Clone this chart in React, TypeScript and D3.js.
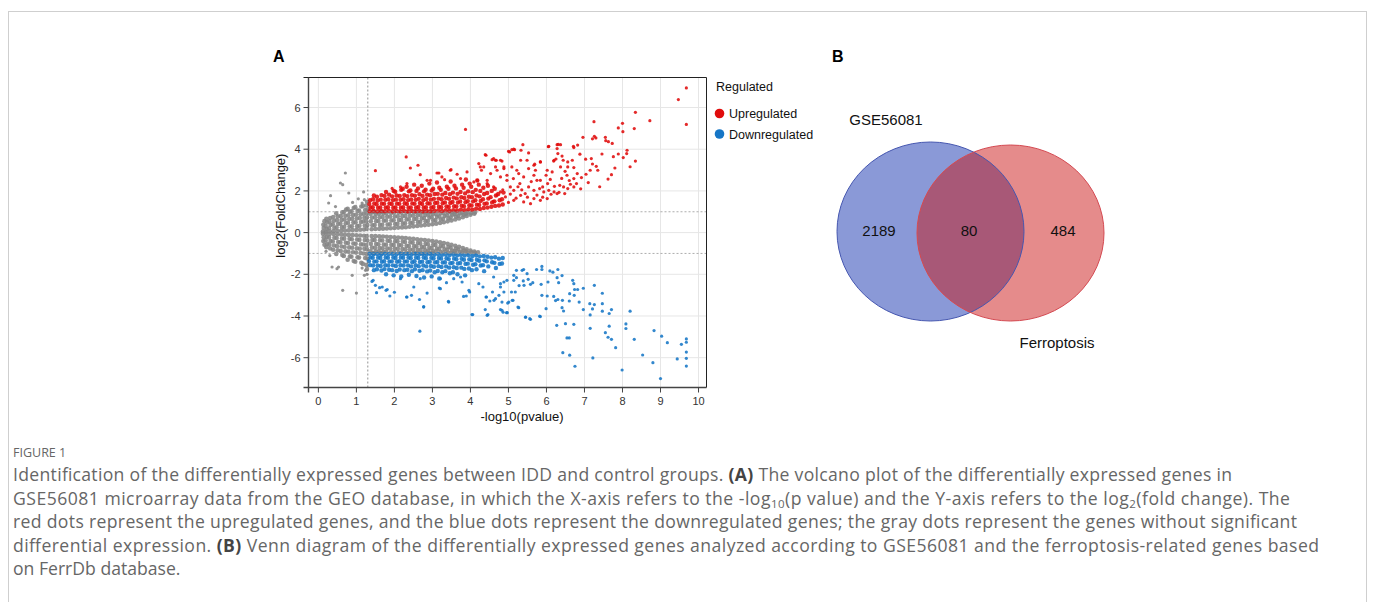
import React from "react";
import * as d3 from "d3";

// "x,y x,y ..." -> [[x, y], ...]
const pts = (s: string): [number, number][] =>
  s.trim().split(/\s+/).map(p => p.split(",").map(Number) as [number, number]);

// volcano plot: -log10(pvalue), log2(FoldChange)
// dense cores of each group (drawn with bigger dots) and the scattered rest
const grayUp = pts(`
0.12,0.05 0.14,0.22 0.13,0.38 0.16,0.55
0.2,0.04 0.22,0.18 0.19,0.33 0.23,0.5 0.21,0.66
0.3,0.06 0.28,0.21 0.32,0.37 0.29,0.54 0.31,0.7
0.4,0.07 0.42,0.23 0.38,0.4 0.41,0.57 0.39,0.75
0.5,0.08 0.48,0.25 0.52,0.42 0.49,0.6 0.51,0.78 0.47,0.92
0.6,0.09 0.62,0.26 0.58,0.43 0.61,0.61 0.59,0.79 0.63,0.97
0.7,0.1 0.68,0.28 0.72,0.45 0.69,0.63 0.71,0.81 0.67,0.99 0.73,1.1
0.8,0.11 0.82,0.29 0.78,0.47 0.81,0.65 0.79,0.83 0.83,1.0 0.77,1.14
0.9,0.12 0.88,0.3 0.92,0.48 0.89,0.66 0.91,0.84 0.87,1.02 0.93,1.18
1.0,0.13 1.02,0.31 0.98,0.5 1.01,0.68 0.99,0.86 1.03,1.04 0.97,1.22
1.1,0.14 1.08,0.33 1.12,0.51 1.09,0.7 1.11,0.88 1.07,1.06 1.13,1.25
1.2,0.15 1.22,0.34 1.18,0.53 1.21,0.71 1.19,0.9 1.23,1.08 1.17,1.28
1.27,0.18 1.29,0.36 1.26,0.55 1.28,0.74 1.27,0.92 1.29,1.1 1.26,1.3 1.28,1.48
1.4,0.16 1.42,0.35 1.38,0.54 1.41,0.72 1.37,0.9 1.43,0.98
1.5,0.17 1.48,0.36 1.52,0.55 1.49,0.73 1.51,0.9 1.47,0.99
1.6,0.18 1.62,0.37 1.58,0.56 1.61,0.74 1.59,0.91 1.63,0.98
1.7,0.19 1.68,0.38 1.72,0.57 1.69,0.75 1.71,0.92 1.67,0.99
1.8,0.2 1.82,0.39 1.78,0.58 1.81,0.76 1.79,0.93
1.9,0.21 1.88,0.4 1.92,0.58 1.89,0.76 1.91,0.94
2.0,0.22 2.02,0.41 1.98,0.59 2.01,0.77 1.99,0.95
2.1,0.24 2.08,0.42 2.12,0.6 2.09,0.78 2.11,0.96
2.2,0.25 2.22,0.43 2.18,0.61 2.21,0.79 2.19,0.97
2.3,0.26 2.28,0.45 2.32,0.63 2.29,0.8 2.31,0.97
2.4,0.28 2.42,0.46 2.38,0.64 2.41,0.81 2.39,0.98
2.5,0.3 2.48,0.48 2.52,0.65 2.49,0.82 2.51,0.98
2.6,0.32 2.62,0.5 2.58,0.67 2.61,0.83 2.59,0.98
2.7,0.34 2.68,0.52 2.72,0.68 2.69,0.84 2.71,0.99
2.8,0.36 2.82,0.54 2.78,0.7 2.81,0.85 2.79,0.99
2.9,0.38 2.88,0.56 2.92,0.72 2.89,0.86 2.91,0.98
3.0,0.4 3.02,0.58 2.98,0.74 3.01,0.88 2.99,0.99
3.1,0.43 3.08,0.6 3.12,0.76 3.09,0.9
3.2,0.46 3.22,0.63 3.18,0.78 3.21,0.92
3.3,0.5 3.28,0.66 3.32,0.8 3.29,0.94
3.4,0.54 3.42,0.69 3.38,0.83 3.41,0.96
3.5,0.58 3.48,0.73 3.52,0.86 3.49,0.97
3.6,0.63 3.62,0.77 3.58,0.89 3.61,0.98
3.7,0.68 3.68,0.81 3.72,0.92
3.8,0.74 3.82,0.86 3.78,0.95
3.9,0.8 3.88,0.9 3.92,0.97
4.0,0.86 4.02,0.94
4.1,0.91 4.12,0.97
`);

const grayDown = pts(`
0.12,-0.05 0.14,-0.22 0.13,-0.4 0.16,-0.58
0.2,-0.04 0.22,-0.2 0.19,-0.37 0.23,-0.54 0.21,-0.7
0.3,-0.06 0.28,-0.23 0.32,-0.4 0.29,-0.58 0.31,-0.76
0.4,-0.07 0.42,-0.25 0.38,-0.43 0.41,-0.62 0.39,-0.82
0.5,-0.08 0.48,-0.26 0.52,-0.45 0.49,-0.65 0.51,-0.85 0.47,-1.02
0.6,-0.09 0.62,-0.28 0.58,-0.47 0.61,-0.67 0.59,-0.88 0.63,-1.08
0.7,-0.1 0.68,-0.29 0.72,-0.49 0.69,-0.69 0.71,-0.9 0.67,-1.12
0.8,-0.11 0.82,-0.3 0.78,-0.5 0.81,-0.71 0.79,-0.92 0.83,-1.14 0.77,-1.3
0.9,-0.12 0.88,-0.32 0.92,-0.52 0.89,-0.73 0.91,-0.94 0.87,-1.16 0.93,-1.36
1.0,-0.13 1.02,-0.33 0.98,-0.54 1.01,-0.75 0.99,-0.96 1.03,-1.18 0.97,-1.4
1.1,-0.14 1.08,-0.35 1.12,-0.56 1.09,-0.77 1.11,-0.98 1.07,-1.2 1.13,-1.45
1.2,-0.15 1.22,-0.36 1.18,-0.57 1.21,-0.78 1.19,-1.0 1.23,-1.22 1.17,-1.5
1.27,-0.17 1.29,-0.38 1.26,-0.6 1.28,-0.8 1.27,-1.02 1.29,-1.25 1.26,-1.55 1.28,-1.75
1.4,-0.16 1.42,-0.35 1.38,-0.54 1.41,-0.72 1.37,-0.9 1.43,-0.98
1.5,-0.17 1.48,-0.36 1.52,-0.55 1.49,-0.73 1.51,-0.9 1.47,-0.99
1.6,-0.18 1.62,-0.37 1.58,-0.56 1.61,-0.74 1.59,-0.91 1.63,-0.98
1.7,-0.19 1.68,-0.38 1.72,-0.57 1.69,-0.75 1.71,-0.92 1.67,-0.99
1.8,-0.2 1.82,-0.39 1.78,-0.58 1.81,-0.76 1.79,-0.93
1.9,-0.21 1.88,-0.4 1.92,-0.58 1.89,-0.76 1.91,-0.94
2.0,-0.22 2.02,-0.41 1.98,-0.59 2.01,-0.77 1.99,-0.95
2.1,-0.24 2.08,-0.42 2.12,-0.6 2.09,-0.78 2.11,-0.96
2.2,-0.25 2.22,-0.43 2.18,-0.61 2.21,-0.79 2.19,-0.97
2.3,-0.26 2.28,-0.45 2.32,-0.63 2.29,-0.8 2.31,-0.97
2.4,-0.28 2.42,-0.46 2.38,-0.64 2.41,-0.81 2.39,-0.98
2.5,-0.3 2.48,-0.48 2.52,-0.65 2.49,-0.82 2.51,-0.98
2.6,-0.32 2.62,-0.5 2.58,-0.67 2.61,-0.83 2.59,-0.98
2.7,-0.34 2.68,-0.52 2.72,-0.68 2.69,-0.84 2.71,-0.99
2.8,-0.36 2.82,-0.54 2.78,-0.7 2.81,-0.85 2.79,-0.99
2.9,-0.38 2.88,-0.56 2.92,-0.72 2.89,-0.86 2.91,-0.98
3.0,-0.4 3.02,-0.58 2.98,-0.74 3.01,-0.88 2.99,-0.99
3.1,-0.43 3.08,-0.6 3.12,-0.76 3.09,-0.9
3.2,-0.46 3.22,-0.63 3.18,-0.78 3.21,-0.92
3.3,-0.5 3.28,-0.66 3.32,-0.8 3.29,-0.94
3.4,-0.54 3.42,-0.69 3.38,-0.83 3.41,-0.96
3.5,-0.58 3.48,-0.73 3.52,-0.86 3.49,-0.97
3.6,-0.63 3.62,-0.77 3.58,-0.89 3.61,-0.98
3.7,-0.68 3.68,-0.81 3.72,-0.92
3.8,-0.74 3.82,-0.86 3.78,-0.95
3.9,-0.8 3.88,-0.9 3.92,-0.97
4.0,-0.86 4.02,-0.94
4.1,-0.91 4.12,-0.97 4.2,-0.95
`);

const grayScatter = pts(`
0.71,2.86 0.58,2.38 0.64,2.3 0.8,1.9 0.32,1.77 0.27,1.42 1.19,1.95 1.21,1.58
0.45,1.25 0.9,1.45 1.05,1.62 1.15,1.42
0.64,-2.77 1.0,-2.9 0.53,-1.65 0.89,-2.05 0.36,-1.65 0.49,-1.73 1.24,-1.81 1.21,-2.05
1.28,-2.0 0.2,-0.9 0.3,-1.1 1.15,-1.7
`);

const upCore = pts(`
1.35,1.03 1.37,1.2 1.34,1.37 1.36,1.55
1.45,1.05 1.43,1.22 1.47,1.4 1.44,1.6 1.46,1.78
1.55,1.02 1.57,1.19 1.53,1.36 1.56,1.54 1.54,1.72
1.65,1.04 1.63,1.21 1.67,1.39 1.64,1.58 1.66,1.8
1.75,1.03 1.77,1.2 1.73,1.38 1.76,1.57 1.74,1.76 1.78,1.95
1.85,1.05 1.83,1.22 1.87,1.4 1.84,1.6 1.86,1.82
1.95,1.02 1.97,1.19 1.93,1.37 1.96,1.56 1.94,1.74 1.98,2.0
2.05,1.04 2.03,1.21 2.07,1.39 2.04,1.58 2.06,1.78 2.02,1.96
2.15,1.03 2.17,1.2 2.13,1.38 2.16,1.57 2.14,1.76 2.18,2.05
2.25,1.05 2.23,1.22 2.27,1.41 2.24,1.6 2.26,1.8 2.22,2.1
2.35,1.02 2.37,1.19 2.33,1.37 2.36,1.56 2.34,1.75 2.38,1.98 2.32,2.2
2.45,1.04 2.43,1.21 2.47,1.4 2.44,1.59 2.46,1.8 2.42,2.02
2.55,1.03 2.57,1.2 2.53,1.38 2.56,1.57 2.54,1.77 2.58,2.0 2.52,2.3
2.65,1.05 2.63,1.23 2.67,1.42 2.64,1.62 2.66,1.84 2.62,2.12
2.75,1.02 2.77,1.19 2.73,1.37 2.76,1.56 2.74,1.76 2.78,1.98 2.72,2.25
2.85,1.04 2.83,1.22 2.87,1.41 2.84,1.61 2.86,1.82 2.82,2.06
2.95,1.03 2.97,1.2 2.93,1.39 2.96,1.58 2.94,1.79 2.98,2.02 2.92,2.35
3.05,1.05 3.03,1.23 3.07,1.42 3.04,1.62 3.06,1.85 3.02,2.1
3.15,1.06 3.17,1.24 3.13,1.43 3.16,1.63 3.14,1.86 3.18,2.15 3.12,2.4
3.25,1.04 3.23,1.22 3.27,1.41 3.24,1.6 3.26,1.82 3.22,2.05
3.35,1.07 3.37,1.26 3.33,1.45 3.36,1.66 3.34,1.9 3.38,2.2
3.45,1.05 3.43,1.23 3.47,1.42 3.44,1.62 3.46,1.84 3.42,2.1 3.48,2.45
3.55,1.08 3.57,1.27 3.53,1.47 3.56,1.68 3.54,1.92 3.58,2.25
3.65,1.06 3.63,1.25 3.67,1.44 3.64,1.64 3.66,1.86 3.62,2.12
3.75,1.1 3.77,1.29 3.73,1.49 3.76,1.7 3.74,1.95 3.78,2.3
3.85,1.08 3.83,1.27 3.87,1.46 3.84,1.66 3.86,1.88 3.82,2.15 3.88,2.55
3.95,1.12 3.97,1.31 3.93,1.51 3.96,1.72 3.94,1.98 3.98,2.35
4.05,1.1 4.03,1.3 4.07,1.5 4.04,1.7 4.06,1.94 4.02,2.2
4.15,1.15 4.17,1.34 4.13,1.55 4.16,1.78 4.14,2.05 4.18,2.5
4.25,1.13 4.23,1.33 4.27,1.52 4.24,1.74 4.26,2.0 4.22,2.3
4.35,1.18 4.37,1.38 4.33,1.6 4.36,1.85 4.34,2.15
4.45,1.2 4.43,1.4 4.47,1.63 4.44,1.9 4.46,2.25
4.55,1.24 4.57,1.45 4.53,1.7 4.56,2.0
4.65,1.28 4.63,1.5 4.67,1.78 4.64,2.1
4.75,1.3 4.77,1.55 4.73,1.85
4.85,1.35 4.83,1.6 4.87,1.92
`);

const upScatter = pts(`
9.68,6.94 9.47,6.38 9.68,5.19 8.34,5.77 8.72,5.37 8.0,5.24 7.89,5.02 8.01,4.84 8.31,4.99
7.25,5.32 7.26,4.62 7.3,4.54 7.21,4.5 6.96,4.57 7.55,4.57 7.56,4.41 7.63,4.36 7.73,4.28
8.12,3.95 8.11,3.79 7.89,3.77 8.02,3.6 7.76,3.64 7.46,3.77 8.34,3.43 8.2,3.16 7.71,2.78
7.62,2.57 6.71,4.14 6.82,4.2 6.72,4.08 6.88,3.76 7.03,3.52 7.18,3.55 7.21,3.29 7.31,3.18
7.35,2.99 7.15,2.99 7.04,2.8 6.92,2.64 6.81,2.83 6.72,3.12 6.68,3.47 6.56,3.15 6.56,3.39
6.44,3.47 6.41,3.67 6.28,4.03 6.31,4.23 6.37,4.22 6.3,3.79 6.05,4.12 6.2,3.47 6.25,3.53
6.37,3.15 6.49,2.94 6.54,2.75 6.72,2.59 6.79,2.35 6.63,2.32 6.56,2.11 6.72,2.19 6.45,2.19
6.35,2.27 6.21,2.22 6.48,1.87 6.33,1.93 6.12,1.84 6.03,2.35 6.06,2.03 5.93,1.95 5.9,2.19
5.84,2.51 5.99,2.75 6.15,2.91 6.02,2.99 5.84,3.39 5.69,3.28 5.71,2.99 5.53,3.07 5.49,3.47
5.32,3.47 5.33,3.95 5.38,4.22 5.09,3.98 5.0,3.9 5.53,3.82 5.67,2.75 5.75,2.51 5.82,2.11
5.67,2.03 5.53,2.19 5.4,2.67 5.27,2.83 5.09,3.15 5.13,2.59 5.3,2.35 5.44,1.87 5.32,1.79
5.14,2.03 5.05,2.19 4.96,2.51 4.88,3.07 4.79,3.47 4.66,3.47 4.57,3.5 4.7,2.99 4.79,2.67
4.53,2.83 4.35,3.15 4.44,2.51 4.61,2.19 4.79,1.95 4.92,1.71 5.14,1.55 5.4,1.47 5.67,1.63
6.02,1.63 6.28,1.87 5.84,1.55 5.58,1.39
3.87,4.95 2.31,3.63 2.62,3.23 2.42,3.1 1.5,2.97 2.68,2.78 1.94,2.12 4.39,3.74 5.03,3.87
5.14,4.0 6.06,4.14 6.28,4.22 4.22,3.31 4.29,2.99 4.61,3.55 4.83,3.43 4.66,3.15 3.17,2.86
3.47,2.99 3.65,2.8 3.91,2.91 3.32,2.54 2.95,2.51 2.33,2.35 3.74,2.59 4.09,2.43 4.44,2.35
4.96,2.75 5.22,2.99 5.67,3.23 5.84,3.39 6.19,3.43 3.12,2.86 3.49,3.02 4.41,3.71 4.68,3.47
5.16,3.98 4.26,3.15 2.16,2.19 2.86,2.51 3.25,2.67 4.18,2.51 4.88,3.15
4.6,1.5 4.7,1.8 4.85,2.05 5.0,1.45 5.05,1.85 5.2,1.65 5.25,2.2 5.35,2.05 5.5,1.7 5.6,2.45
5.75,1.8 5.9,1.7 6.1,2.55 6.2,1.95 6.4,2.6 6.6,2.5 6.9,2.1 7.1,2.4 7.4,2.2 7.8,3.1
`);

const downCore = pts(`
1.35,-1.02 1.37,-1.19 1.33,-1.37 1.36,-1.56
1.45,-1.04 1.43,-1.21 1.47,-1.39 1.44,-1.58 1.46,-1.8
1.55,-1.03 1.57,-1.2 1.53,-1.38 1.56,-1.57 1.54,-1.76
1.65,-1.05 1.63,-1.22 1.67,-1.4 1.64,-1.6 1.66,-1.82
1.75,-1.02 1.77,-1.19 1.73,-1.37 1.76,-1.56 1.74,-1.75 1.78,-2.0
1.85,-1.04 1.83,-1.21 1.87,-1.39 1.84,-1.58 1.86,-1.78
1.95,-1.03 1.97,-1.2 1.93,-1.38 1.96,-1.57 1.94,-1.8 1.98,-2.05
2.05,-1.05 2.03,-1.22 2.07,-1.4 2.04,-1.6 2.06,-1.84
2.15,-1.02 2.17,-1.19 2.13,-1.37 2.16,-1.56 2.14,-1.77 2.18,-2.1
2.25,-1.04 2.23,-1.21 2.27,-1.39 2.24,-1.58 2.26,-1.8
2.35,-1.03 2.37,-1.2 2.33,-1.38 2.36,-1.57 2.34,-1.78 2.38,-2.02
2.45,-1.05 2.43,-1.23 2.47,-1.42 2.44,-1.62 2.46,-1.85
2.55,-1.02 2.57,-1.19 2.53,-1.37 2.56,-1.56 2.54,-1.76 2.58,-2.08
2.65,-1.04 2.63,-1.22 2.67,-1.41 2.64,-1.61 2.66,-1.83
2.75,-1.03 2.77,-1.2 2.73,-1.39 2.76,-1.58 2.74,-1.8 2.78,-2.15
2.85,-1.05 2.83,-1.23 2.87,-1.42 2.84,-1.62 2.86,-1.86
2.95,-1.03 2.97,-1.21 2.93,-1.4 2.96,-1.6 2.94,-1.82 2.98,-2.1
3.05,-1.06 3.03,-1.24 3.07,-1.43 3.04,-1.64 3.06,-1.9
3.15,-1.04 3.17,-1.22 3.13,-1.41 3.16,-1.61 3.14,-1.84 3.18,-2.2
3.25,-1.07 3.23,-1.25 3.27,-1.44 3.24,-1.65 3.26,-1.9
3.35,-1.05 3.37,-1.23 3.33,-1.42 3.36,-1.62 3.34,-1.85
3.45,-1.08 3.43,-1.27 3.47,-1.47 3.44,-1.68 3.46,-1.95
3.55,-1.06 3.57,-1.25 3.53,-1.45 3.56,-1.66 3.54,-1.9
3.65,-1.09 3.63,-1.28 3.67,-1.48 3.64,-1.7 3.66,-2.0
3.75,-1.07 3.77,-1.26 3.73,-1.46 3.76,-1.68
3.85,-1.1 3.83,-1.3 3.87,-1.5 3.84,-1.74 3.86,-2.05
3.95,-1.08 3.97,-1.28 3.93,-1.49 3.96,-1.72
4.05,-1.12 4.03,-1.32 4.07,-1.54 4.04,-1.8
4.15,-1.1 4.17,-1.3 4.13,-1.52 4.16,-1.76
4.25,-1.14 4.23,-1.35 4.27,-1.58
4.35,-1.12 4.37,-1.33 4.33,-1.56 4.36,-1.85
4.45,-1.16 4.43,-1.38 4.47,-1.62
4.55,-1.2 4.57,-1.42
4.65,-1.18 4.63,-1.45 4.67,-1.7
4.75,-1.25 4.77,-1.5
4.85,-1.22 4.83,-1.48
`);

const downScatter = pts(`
9.68,-5.1 9.68,-5.26 9.68,-5.73 9.68,-6.03 9.68,-6.4 9.55,-5.36 9.44,-6.06 9.0,-7.0
9.18,-5.28 9.03,-4.97 8.83,-4.7 8.8,-6.24 8.53,-5.87 8.31,-5.12 8.2,-3.77 8.09,-4.38
8.09,-4.6 7.99,-6.59 7.82,-5.52 7.71,-5.12 7.65,-4.49 7.62,-5.02 7.55,-4.8 7.71,-3.69
7.65,-3.88 7.47,-3.77 7.47,-3.41 7.47,-2.91 7.21,-3.66 7.26,-3.45 7.26,-2.53 7.14,-3.41
7.15,-3.95 7.15,-4.59 7.22,-6.01 6.97,-3.69 6.97,-2.67 6.86,-3.33 6.82,-2.73 6.74,-2.73
6.72,-2.45 6.69,-2.29 6.73,-3.01 6.61,-2.93 6.6,-3.28 6.72,-4.4 6.75,-6.41 6.61,-5.88
6.6,-5.05 6.54,-5.05 6.5,-4.37 6.43,-5.76 6.45,-3.76 6.41,-3.6 6.42,-3.25 6.41,-2.06
6.27,-4.45 6.3,-3.21 6.24,-3.26 6.19,-3.06 6.32,-2.4 6.28,-2.16 6.3,-1.77 6.17,-1.9
6.09,-1.84 5.99,-3.65 6.02,-3.04 6.04,-2.37 5.88,-3.01 5.84,-4.03 5.86,-2.48 5.88,-1.77
5.88,-1.62 5.74,-1.77 5.64,-2.4 5.58,-4.16 5.45,-4.06 5.58,-2.48 5.52,-2.24 5.41,-2.53
5.39,-2.32 5.27,-3.6 5.28,-2.54 5.21,-2.16 5.14,-2.29 5.12,-3.25 5.08,-2.85 5.01,-3.33
4.98,-3.38 4.95,-3.84 4.86,-3.82 4.79,-3.69 4.75,-3.01 4.83,-3.33 4.62,-3.25 4.58,-2.85
4.51,-3.28 4.46,-3.93 4.39,-3.69 4.42,-3.09 4.33,-2.61 4.79,-2.45 4.88,-2.37 4.96,-2.29
5.21,-1.81 5.4,-1.77 5.49,-1.97
2.67,-4.73 2.77,-3.55 2.66,-3.21 2.32,-3.09 2.45,-3.01 1.53,-2.88 1.88,-3.04 2.0,-2.86
1.78,-2.77 1.68,-2.61 1.5,-2.53 1.41,-2.34 3.42,-3.3 2.86,-2.9 3.18,-2.66 3.37,-2.4
3.82,-3.06 3.89,-3.04 3.96,-2.77 4.06,-3.93 4.41,-3.09 3.78,-2.37 3.56,-2.21 4.22,-2.45
4.79,-2.61 4.88,-2.85 4.66,-3.17 5.1,-3.25 5.18,-2.85
1.44,-2.29 1.81,-2.73 1.61,-2.64 2.33,-3.09 2.77,-3.57 3.21,-2.69 3.43,-3.33 4.04,-3.93
4.44,-3.97 4.83,-3.73 4.97,-3.84 5.25,-3.57 5.45,-4.05 5.56,-4.13 5.82,-4.01 3.98,-2.85
2.68,-2.21 2.16,-2.21 2.51,-2.61 3.21,-2.21 3.74,-2.13 4.61,-2.13 5.14,-2.05 5.36,-1.81
`);

const xTicks = [0, 1, 2, 3, 4, 5, 6, 7, 8, 9, 10];
const yTicks = [-6, -4, -2, 0, 2, 4, 6];
const pCut = 1.3; // -log10(0.05)
const fcCut = [-1, 1];
const legendItems = ["Upregulated", "Downregulated"];

// venn diagram
const vennSets = ["GSE56081", "Ferroptosis"];
const vennCounts = [2189, 80, 484];

const FONT = "'Liberation Sans', Arial, sans-serif";
const CAP_FONT = "'Open Sans', sans-serif";
const RED = "#e00c0c";
const BLUE = "#1676c6";
const GRAY = "#858585";

const App = () => {
  const left = 308.5, right = 706.5, top = 77.5, bottom = 387.5;
  const x = d3.scaleLinear().domain([-0.26, 10.21]).range([left, right]);
  const y = d3.scaleLinear().domain([-7.43, 7.44]).range([bottom, top]);

  const series: [string, [number, number][], number][] = [
    [GRAY, grayUp, 2.3], [GRAY, grayDown, 2.3], [GRAY, grayScatter, 1.6],
    [RED, upCore, 2.2], [RED, upScatter, 1.6],
    [BLUE, downCore, 2.2], [BLUE, downScatter, 1.6]
  ];

  // venn geometry
  const blue = { cx: 930.5, cy: 231.5, rx: 93.5, ry: 89.5 };
  const red = { cx: 1010.5, cy: 233, rx: 93.5, ry: 88 };

  const capX = 13;
  const capY = [481, 504.5, 528, 551.5, 575];
  const capW = [1219, 1277, 1284, 1306];
  const sub = { fontSize: 11.5, baselineShift: "-3" } as any;

  return (
    <svg width={1375} height={602} style={{ position: "absolute", left: 0, top: 0 }}>
      <rect x={0} y={0} width={1375} height={602} fill="#fff" />
      <rect x={8.5} y={11.5} width={1358} height={620} fill="none" stroke="#cfcfcf" />

      {/* panel A */}
      <text x={273} y={62} fontFamily={FONT} fontWeight="bold" fontSize={16}>A</text>
      <g>
        {xTicks.map(t => (
          <line key={"gx" + t} x1={x(t)} x2={x(t)} y1={top} y2={bottom} stroke="#e6e6e6" />
        ))}
        {yTicks.map(t => (
          <line key={"gy" + t} x1={left} x2={right} y1={y(t)} y2={y(t)} stroke="#e6e6e6" />
        ))}
        {series.map(([c, d, r], i) => (
          <g key={i} fill={c} fillOpacity={0.88}>
            {d.map((p, j) => <circle key={j} cx={x(p[0])} cy={y(p[1])} r={r} />)}
          </g>
        ))}
        <line x1={x(pCut)} x2={x(pCut)} y1={top} y2={bottom} stroke="#777" strokeWidth={0.8} strokeDasharray="2,2" />
        {fcCut.map(v => (
          <line key={v} x1={left} x2={right} y1={y(v)} y2={y(v)} stroke="#999" strokeWidth={0.8} strokeDasharray="2,2" />
        ))}
        <line x1={left - 5} x2={right} y1={top} y2={top} stroke="#222" />
        <line x1={right} x2={right} y1={top} y2={bottom} stroke="#222" />
        <line x1={left} x2={left} y1={top} y2={bottom + 5} stroke="#444" strokeWidth={1.4} />
        <line x1={left - 5} x2={right} y1={bottom} y2={bottom} stroke="#444" strokeWidth={1.4} />
        {xTicks.map(t => (
          <g key={"tx" + t}>
            <line x1={x(t)} x2={x(t)} y1={bottom} y2={bottom + 5} stroke="#444" />
            <text x={x(t)} y={bottom + 17} textAnchor="middle" fontFamily={FONT} fontSize={11} fill="#333">{t}</text>
          </g>
        ))}
        {yTicks.map(t => (
          <g key={"ty" + t}>
            <line x1={left - 5} x2={left} y1={y(t)} y2={y(t)} stroke="#444" />
            <text x={left - 8} y={y(t) + 4} textAnchor="end" fontFamily={FONT} fontSize={11} fill="#333">{t}</text>
          </g>
        ))}
        <text x={522} y={421} textAnchor="middle" fontFamily={FONT} fontSize={13} fill="#111">-log10(pvalue)</text>
        <text transform={`translate(285,${y(0) - 27}) rotate(-90)`} textAnchor="middle" fontFamily={FONT} fontSize={13} fill="#111">log2(FoldChange)</text>
        <text x={716} y={91} fontFamily={FONT} fontSize={12.5} fill="#111">Regulated</text>
        {legendItems.map((l, i) => (
          <g key={l}>
            <circle cx={719.5} cy={113.5 + i * 20.5} r={4.8} fill={i === 0 ? RED : BLUE} />
            <text x={729} y={118 + i * 20.5} fontFamily={FONT} fontSize={12.5} fill="#111">{l}</text>
          </g>
        ))}
      </g>

      {/* panel B */}
      <text x={832} y={62} fontFamily={FONT} fontWeight="bold" fontSize={16}>B</text>
      <defs>
        <clipPath id="blueClip">
          <ellipse cx={blue.cx} cy={blue.cy} rx={blue.rx} ry={blue.ry} />
        </clipPath>
      </defs>
      <ellipse cx={blue.cx} cy={blue.cy} rx={blue.rx} ry={blue.ry} fill="#8a99d7" />
      <ellipse cx={red.cx} cy={red.cy} rx={red.rx} ry={red.ry} fill="#e58b8b" />
      <ellipse cx={red.cx} cy={red.cy} rx={red.rx} ry={red.ry} fill="#a85877" clipPath="url(#blueClip)" />
      <ellipse cx={blue.cx} cy={blue.cy} rx={blue.rx} ry={blue.ry} fill="none" stroke="#4657b0" strokeWidth={1} />
      <ellipse cx={red.cx} cy={red.cy} rx={red.rx} ry={red.ry} fill="none" stroke="#d44a52" strokeWidth={1} />
      <text x={886} y={125} textAnchor="middle" fontFamily={FONT} fontSize={15} fill="#111">{vennSets[0]}</text>
      <text x={1057} y={348} textAnchor="middle" fontFamily={FONT} fontSize={15} fill="#111">{vennSets[1]}</text>
      {vennCounts.map((v, i) => (
        <text key={i} x={[879, 969, 1063][i]} y={236} textAnchor="middle" fontFamily={FONT} fontSize={15} fill="#111">{v}</text>
      ))}

      {/* caption */}
      <text x={capX} y={457} fontFamily={CAP_FONT} fontSize={12.5} fill="#666">FIGURE 1</text>
      <g fontFamily={CAP_FONT} fontSize={17.6} fill="#666">
        <text x={capX} y={capY[0]} textLength={capW[0]} lengthAdjust="spacing">Identification of the differentially expressed genes between IDD and control groups. <tspan fontWeight="bold" fill="#444">(A)</tspan> The volcano plot of the differentially expressed genes in</text>
        <text x={capX} y={capY[1]} textLength={capW[1]} lengthAdjust="spacing">GSE56081 microarray data from the GEO database, in which the X-axis refers to the -log<tspan {...sub}>10</tspan><tspan baselineShift="0">(p value) and the Y-axis refers to the log</tspan><tspan {...sub}>2</tspan><tspan baselineShift="0">(fold change). The</tspan></text>
        <text x={capX} y={capY[2]} textLength={capW[2]} lengthAdjust="spacing">red dots represent the upregulated genes, and the blue dots represent the downregulated genes; the gray dots represent the genes without significant</text>
        <text x={capX} y={capY[3]} textLength={capW[3]} lengthAdjust="spacing">differential expression. <tspan fontWeight="bold" fill="#444">(B)</tspan> Venn diagram of the differentially expressed genes analyzed according to GSE56081 and the ferroptosis-related genes based</text>
        <text x={capX} y={capY[4]}>on FerrDb database.</text>
      </g>
    </svg>
  );
};

export default App;
